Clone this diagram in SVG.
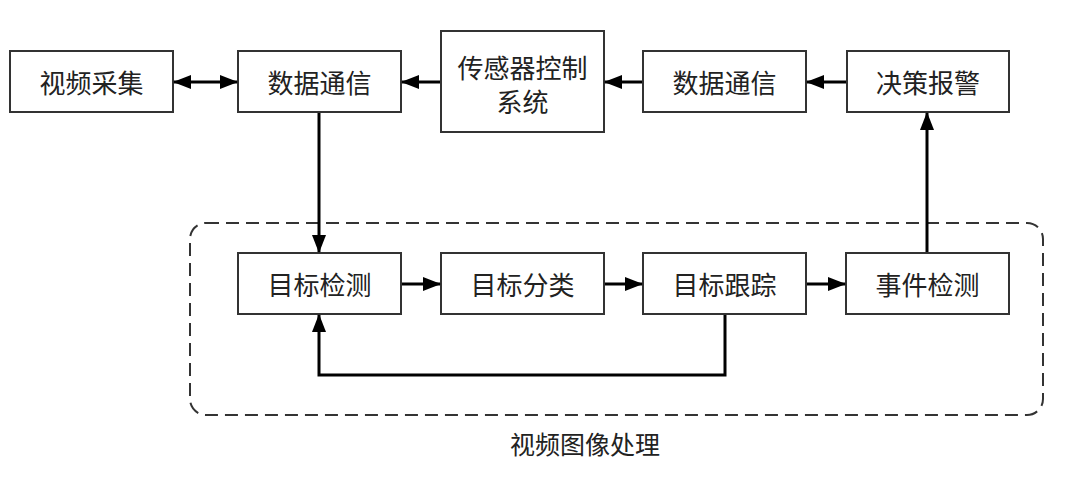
<svg xmlns="http://www.w3.org/2000/svg" width="1090" height="481" viewBox="0 0 1090 481">
<style>
.box{fill:#fff;stroke:#333;stroke-width:2}
.t{font-family:"Noto Sans CJK SC","Noto Sans",sans-serif;font-size:26px;fill:#222;text-anchor:middle;dominant-baseline:central}
.c{fill:none;stroke:#000;stroke-width:3}
.grp{fill:none;stroke:#333;stroke-width:2;stroke-dasharray:13 7}
</style>
<defs>
<marker id="ah" markerUnits="userSpaceOnUse" markerWidth="18" markerHeight="14" refX="17" refY="7" orient="auto-start-reverse" viewBox="0 0 18 14">
<path d="M0,0 L18,7 L0,14 Z" fill="#000"/>
</marker>
</defs>
<rect width="1090" height="481" fill="#fff"/>
<rect id="group" class="grp" x="190" y="223" width="853" height="192" rx="16"/>
<g id="n1"><rect class="box" x="10" y="51" width="163" height="61"/><text class="t" x="91.5" y="81.5">视频采集</text></g>
<g id="n2"><rect class="box" x="238" y="51" width="163" height="61"/><text class="t" x="319.5" y="81.5">数据通信</text></g>
<g id="n3"><rect class="box" x="441" y="31" width="163" height="101"/><text class="t" x="522.5" y="66">传感器控制</text><text class="t" x="522.5" y="100">系统</text></g>
<g id="n4"><rect class="box" x="643" y="51" width="163" height="61"/><text class="t" x="724.5" y="81.5">数据通信</text></g>
<g id="n5"><rect class="box" x="847" y="51" width="162" height="61"/><text class="t" x="928" y="81.5">决策报警</text></g>
<g id="n6"><rect class="box" x="238" y="253" width="163" height="61"/><text class="t" x="319.5" y="283.5">目标检测</text></g>
<g id="n7"><rect class="box" x="441" y="253" width="163" height="61"/><text class="t" x="522.5" y="283.5">目标分类</text></g>
<g id="n8"><rect class="box" x="643" y="253" width="163" height="61"/><text class="t" x="724.5" y="283.5">目标跟踪</text></g>
<g id="n9"><rect class="box" x="846" y="253" width="163" height="61"/><text class="t" x="927.5" y="283.5">事件检测</text></g>
<text id="groupLabel" class="t" x="585" y="443" style="font-size:25px">视频图像处理</text>
<g id="connectors">
<line class="c" x1="174" y1="82" x2="237" y2="82" marker-start="url(#ah)" marker-end="url(#ah)"/>
<line class="c" x1="440" y1="82" x2="402" y2="82" marker-end="url(#ah)"/>
<line class="c" x1="642" y1="82" x2="605" y2="82" marker-end="url(#ah)"/>
<line class="c" x1="846" y1="82" x2="807" y2="82" marker-end="url(#ah)"/>
<line class="c" x1="319" y1="113" x2="319" y2="252" marker-end="url(#ah)"/>
<line class="c" x1="927" y1="252" x2="927" y2="113" marker-end="url(#ah)"/>
<line class="c" x1="402" y1="284" x2="440" y2="284" marker-end="url(#ah)"/>
<line class="c" x1="605" y1="284" x2="642" y2="284" marker-end="url(#ah)"/>
<line class="c" x1="807" y1="284" x2="845" y2="284" marker-end="url(#ah)"/>
<polyline class="c" points="725,315 725,375 319,375 319,315" marker-end="url(#ah)"/>
</g>
</svg>
